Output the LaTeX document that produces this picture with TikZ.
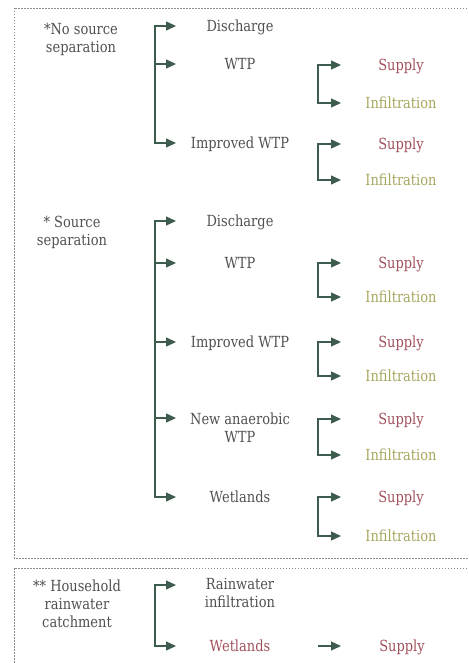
\documentclass[tikz,border=0pt]{standalone}
\usepackage{fontspec}
\setmainfont{DejaVu Serif}[FakeStretch=0.85]
\usetikzlibrary{arrows.meta}
\definecolor{txtc}{HTML}{505050}
\definecolor{arrc}{HTML}{3E5C4D}
\definecolor{supc}{HTML}{A0505A}
\definecolor{infc}{HTML}{A8A65E}
\definecolor{boxc}{HTML}{8A8F8C}
\begin{document}
\begin{tikzpicture}[x=1pt,y=-1pt,
 lbl/.style={inner sep=0pt, text height=11.2pt, text depth=0pt, align=center, font=\fontsize{15.3}{18}\selectfont, text=txtc},
 sup/.style={lbl, text=supc},
 inf/.style={lbl, text=infc},
 arr/.style={draw=arrc, line width=1.3pt, -{Triangle[length=10pt,width=9pt]}},
 spine/.style={draw=arrc, line width=1.3pt, line cap=rect},
 frame/.style={draw=boxc, line width=0.8pt, dash pattern=on 1.5pt off 1.5pt}]
\useasboundingbox (0,0) rectangle (468,663);
\clip (0,0) rectangle (468,663);
% frames
\draw[frame] (14,8) rectangle (475,558);
\draw[frame] (14,568) rectangle (475,680);
% bracket columns
\coordinate (sa) at (155,0);
\coordinate (ea) at (176,0);
\coordinate (sb) at (318,0);
\coordinate (eb) at (341,0);
% ---------- section 1 (multi-line nodes are placed by their last line)
\node[lbl] (ns) at (81,47) {*No source\\separation};
\node[lbl] (dis1) at (240,26) {Discharge};
\node[lbl] (wtp1) at (240,64) {WTP};
\node[lbl] (imp1) at (240,143) {Improved WTP};
\node[sup] (s1a) at (401,65) {Supply};
\node[inf] (i1a) at (401,103) {Infiltration};
\node[sup] (s1b) at (401,144) {Supply};
\node[inf] (i1b) at (401,180) {Infiltration};
\draw[spine] (sa|-dis1) -- (sa|-imp1);
\foreach \n in {dis1,wtp1,imp1} \draw[arr] (sa|-\n) -- (ea|-\n);
\draw[spine] (sb|-s1a) -- (sb|-i1a);
\draw[spine] (sb|-s1b) -- (sb|-i1b);
\foreach \n in {s1a,i1a,s1b,i1b} \draw[arr] (sb|-\n) -- (eb|-\n);
% ---------- section 2
\node[lbl] (ss) at (72,240) {* Source\\separation};
\node[lbl] (dis2) at (240,221) {Discharge};
\node[lbl] (wtp2) at (240,263) {WTP};
\node[lbl] (imp2) at (240,342) {Improved WTP};
\node[lbl] (ana2) at (240,437) {New anaerobic\\WTP};
\coordinate (ana2a) at (240,418);
\node[lbl] (wet2) at (240,497) {Wetlands};
\node[sup] (s2a) at (401,263) {Supply};
\node[inf] (i2a) at (401,297) {Infiltration};
\node[sup] (s2b) at (401,342) {Supply};
\node[inf] (i2b) at (401,376) {Infiltration};
\node[sup] (s2c) at (401,419) {Supply};
\node[inf] (i2c) at (401,455) {Infiltration};
\node[sup] (s2d) at (401,497) {Supply};
\node[inf] (i2d) at (401,536) {Infiltration};
\draw[spine] (sa|-dis2) -- (sa|-wet2);
\foreach \n in {dis2,wtp2,imp2,ana2a,wet2} \draw[arr] (sa|-\n) -- (ea|-\n);
\draw[spine] (sb|-s2a) -- (sb|-i2a);
\draw[spine] (sb|-s2b) -- (sb|-i2b);
\draw[spine] (sb|-s2c) -- (sb|-i2c);
\draw[spine] (sb|-s2d) -- (sb|-i2d);
\foreach \n in {s2a,i2a,s2b,i2b,s2c,i2c,s2d,i2d} \draw[arr] (sb|-\n) -- (eb|-\n);
% ---------- section 3
\node[lbl] (hh) at (77,622) {** Household\\rainwater\\catchment};
\node[lbl] (rain) at (240,602) {Rainwater\\infiltration};
\coordinate (raina) at (240,585);
\node[sup] (wet3) at (240,646) {Wetlands};
\node[sup] (sup3) at (402,646) {Supply};
\draw[spine] (sa|-raina) -- (sa|-wet3);
\foreach \n in {raina,wet3} \draw[arr] (sa|-\n) -- (ea|-\n);
\draw[arr] (sb|-wet3) -- (eb|-sup3);
\end{tikzpicture}
\end{document}
